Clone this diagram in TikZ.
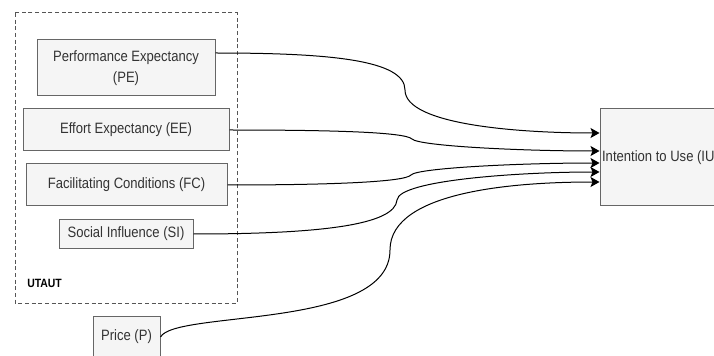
\documentclass[tikz,border=0pt]{standalone}
\usepackage{fontspec}
\setmainfont{Liberation Sans}[FakeStretch=0.87]
\usetikzlibrary{arrows.meta,calc}
\definecolor{boxfill}{HTML}{F5F5F5}
\definecolor{boxdraw}{HTML}{666666}
\definecolor{boxtext}{HTML}{333333}
\definecolor{dashgray}{HTML}{555555}
\begin{document}
\begin{tikzpicture}[x=0.75pt,y=-0.75pt,
  fbox/.style={draw=boxdraw,fill=boxfill,text=boxtext,line width=0.75pt,inner sep=0pt,align=center,
    font=\fontsize{11.25}{16.3}\selectfont},
  conn/.style={draw=black,line width=0.75pt,-{Stealth[length=6.75pt,width=7.5pt,inset=1.5pt]}}]
\useasboundingbox (0,0) rectangle (714,356);
\fill[white] (0,0) rectangle (714,356);
\clip (0,0) rectangle (714,356);
% UTAUT group
\draw[dashgray,line width=0.75pt,dash pattern=on 3pt off 2pt] (15,13) rectangle (237,303);
\node[anchor=west,font=\bfseries\fontsize{9}{10}\selectfont,inner sep=0pt] (utaut) at (27,283) {UTAUT};
% boxes
\node[fbox,minimum width=133.5pt,minimum height=42pt] (pe) at (126,68) {Performance Expectancy\\(PE)};
\node[fbox,minimum width=154.5pt,minimum height=31.5pt] (ee) at (126,130) {Effort Expectancy (EE)};
\node[fbox,minimum width=150.75pt,minimum height=31.5pt] (fc) at (126.5,185) {Facilitating Conditions (FC)};
\node[fbox,minimum width=100.5pt,minimum height=21pt] (si) at (126,234) {Social Influence (SI)};
\node[fbox,minimum width=50.25pt,minimum height=31.5pt] (pr) at (126.5,337) {Price (P)};
\node[fbox,minimum width=90.75pt,minimum height=72.75pt] (iu) at (660.5,157.5) {Intention to Use (IU)};
% connectors
\draw[conn] ($(pe.east)+(0,-15)$) .. controls (330,53) and (405,60) .. (405,90)
   .. controls (405,125) and (520,133) .. ($(iu.west)+(0,-24.5)$);
\draw[conn] (ee.east) .. controls (330,130) and (405,132) .. (412,139)
   .. controls (419,146) and (520,151) .. ($(iu.west)+(0,-6.5)$);
\draw[conn] (fc.east) .. controls (330,185) and (405,182) .. (411,175)
   .. controls (417,168) and (520,163) .. ($(iu.west)+(0,5.5)$);
\draw[conn] (si.east) .. controls (320,234) and (395,225) .. (397,200)
   .. controls (399,180) and (520,172) .. ($(iu.west)+(0,14.5)$);
\draw[conn] (pr.east) .. controls (175,310) and (390,330) .. (390,250)
   .. controls (390,190) and (520,182) .. ($(iu.west)+(0,24.5)$);
\end{tikzpicture}
\end{document}
